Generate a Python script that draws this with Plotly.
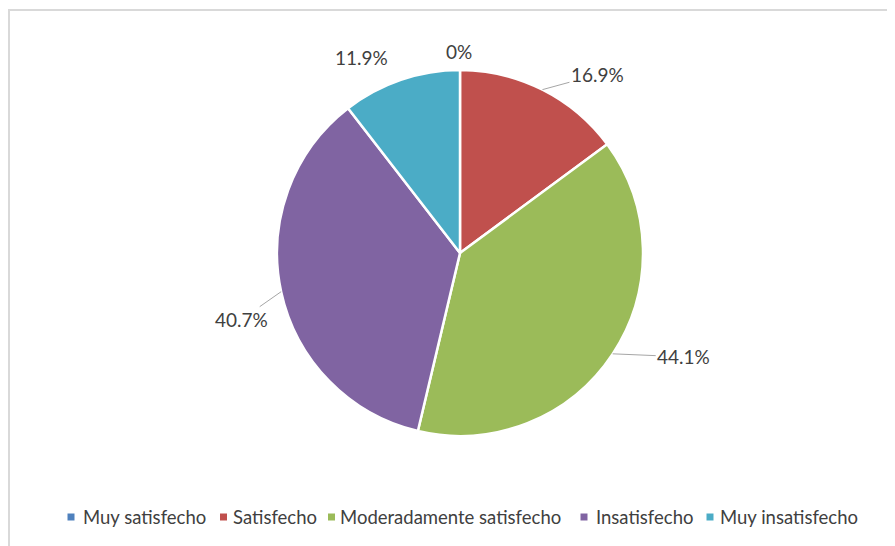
import math
import plotly.graph_objects as go

categories = ["Muy satisfecho", "Satisfecho", "Moderadamente satisfecho", "Insatisfecho", "Muy insatisfecho"]
values = [0, 16.9, 44.1, 40.7, 11.9]
colors = ["#4F81BD", "#C0504D", "#9BBB59", "#8064A2", "#4BACC6"]

labels_txt = [f"{v:g}%" for v in values]

W, H = 895, 546
OFF = 8  # page body margin
FONT = "Lato, Open Sans, sans-serif"
TXT = "#404040"


def px(x):
    return (x - OFF) / W


def py(y):
    return 1 - (y - OFF) / H


cx, cy, R = 460, 253, 183

fig = go.Figure(go.Pie(
    labels=categories,
    values=values,
    textinfo="none",
    sort=False,
    direction="clockwise",
    rotation=0,
    marker=dict(colors=colors, line=dict(color="white", width=2.5)),
    domain=dict(x=[px(cx - R), px(cx + R)], y=[py(cy + R), py(cy - R)]),
    hoverinfo="label+percent",
    showlegend=False,
))

# data labels: anchored at each slice's mid-angle on the pie edge
label_offsets = [(-1, -19, False), (55, -15, True), (71, 3, True), (-40, 28, True), (-39, -22, False)]
total = sum(values)
cum = 0.0
for v, t, (ax, ay, line) in zip(values, labels_txt, label_offsets):
    mid = (cum + v / 2) / total
    cum += v
    th = 2 * math.pi * mid
    ex = cx + R * math.sin(th)
    ey = cy - R * math.cos(th)
    fig.add_annotation(xref="paper", yref="paper", x=px(ex), y=py(ey),
                       ax=ax, ay=ay, axref="pixel", ayref="pixel",
                       text=t, showarrow=True, arrowhead=0, arrowwidth=1,
                       arrowcolor="#A6A6A6" if line else "rgba(0,0,0,0)", standoff=0,
                       font=dict(family=FONT, size=19, color=TXT))

# chart area border
fig.add_shape(type="rect", xref="paper", yref="paper",
              x0=px(9), x1=1.05, y0=-0.05, y1=py(10),
              line=dict(color="#D9D9D9", width=2), fillcolor="rgba(0,0,0,0)", layer="below")

# legend (drawn manually to match compact spacing)
legend_sym_x = [71, 223.5, 331.5, 584, 710]
legend_txt_x = [81, 231, 338, 594, 718]
legend_y = 517
for name, col, sx, tx in zip(categories, colors, legend_sym_x, legend_txt_x):
    fig.add_shape(type="rect", xref="paper", yref="paper",
                  x0=px(sx - 3.5), x1=px(sx + 3.5), y0=py(legend_y + 3.5), y1=py(legend_y - 3.5),
                  line=dict(width=0), fillcolor=col)
    fig.add_annotation(xref="paper", yref="paper", x=px(tx), y=py(legend_y),
                       xanchor="left", yanchor="middle", showarrow=False, text=name,
                       font=dict(family=FONT, size=18.5, color=TXT))

fig.update_layout(
    width=W, height=H,
    margin=dict(l=0, r=0, t=0, b=0),
    paper_bgcolor="white",
    plot_bgcolor="white",
    showlegend=False,
)

fig.write_html("out.html")
